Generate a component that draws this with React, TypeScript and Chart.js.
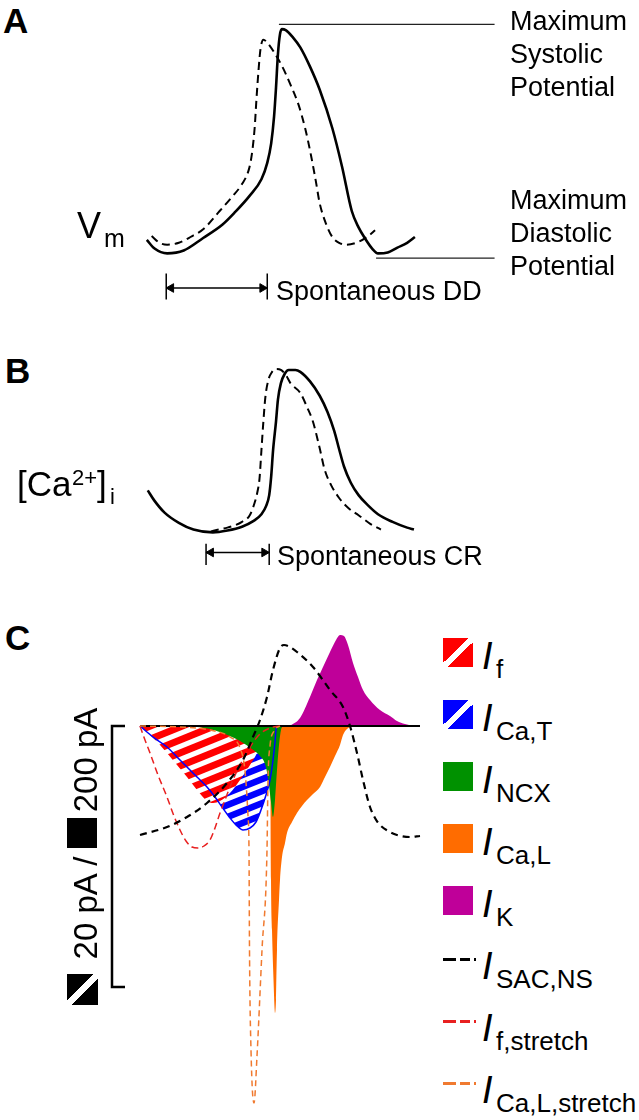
import React, { useEffect, useRef } from "react";
import { Chart, registerables } from "chart.js";
Chart.register(...registerables);

const FONT = '"Liberation Sans", Arial, Helvetica, sans-serif';

// ---------- Panel A: membrane potential (time, height above MDP) ----------
const vmControl: number[][] = [[2,17],[10,8],[23,3],[40,6],[60,19],[80,33],[93,46],[108,63],[120,80],[126,97],[130,117],[133,145],[135,175],[137,210],[139,230],[141,236],[145,235],[152,228],[160,217],[170,197],[180,173],[193,133],[203,93],[213,47],[220,30],[227,18],[234,8],[240,3],[250,4],[260,9],[270,14],[278,20]];
const vmStretch: number[][] = [[7,21],[15,14],[23,12],[35,14],[47,20],[60,28],[77,47],[90,62],[100,75],[107,90],[110,105],[113,133],[115,165],[117,193],[119,215],[122,225],[126,222],[133,212],[142,196],[150,178],[158,158],[165,133],[171,105],[176,78],[180,55],[186,35],[193,20],[200,14],[207,12],[220,15],[230,21],[237,27]];
const mspLine: number[][] = [[138,241],[360,241]];
const mdpLine: number[][] = [[238,-2],[360,-2]];
const ddBar: number[][] = [[22,-33],[126,-33]];
const ddTickL: number[][] = [[22,-18],[22,-45]];
const ddTickR: number[][] = [[126,-18],[126,-45]];
const ddHeads: number[][] = [[27,-33],[121,-33]];

// ---------- Panel B: [Ca2+]i ----------
const caControl: number[][] = [[3,48],[10,37],[20,25],[35,14],[50,7],[70,4],[85,6],[100,10],[112,16],[120,23],[125,32],[128,43],[130,62],[132,90],[135,120],[137,143],[140,160],[144,170],[148,174],[155,174],[160,172],[170,162],[180,147],[188,130],[195,110],[200,91],[205,73],[212,56],[220,43],[230,32],[240,23],[255,15],[270,9],[277,7]];
const caStretch: number[][] = [[68,5],[76,7],[85,9],[100,15],[108,22],[113,35],[116,47],[118,60],[120,90],[122,120],[124,145],[127,163],[131,172],[135,175],[140,174],[145,169],[150,160],[160,150],[167,135],[173,120],[180,92],[185,70],[192,53],[200,40],[210,29],[220,22],[232,13],[243,7]];
const crBar: number[][] = [[63,-17],[128,-17]];
const crTickL: number[][] = [[63,-8],[63,-30]];
const crTickR: number[][] = [[128,-8],[128,-30]];
const crHeads: number[][] = [[68,-17],[123,-17]];

// ---------- Panel C: currents ----------
const iF: number[][] = [[0,0],[10,-9],[20,-19],[27,-27],[37,-39],[47,-51],[57,-64],[67,-75],[73,-77],[80,-75],[90,-67],[100,-54],[110,-39],[117,-27],[120,-19],[123,-9],[126,-2],[130,0]];
const iCaT: number[][] = [[0,0],[13,-11],[27,-21],[37,-31],[47,-41],[57,-51],[67,-61],[75,-71],[82,-81],[90,-92],[97,-100],[103,-104],[110,-102],[116,-96],[121,-84],[126,-69],[130,-54],[133,-34],[135,-16],[136,-4],[137,0]];
const iNCX: number[][] = [[50,0],[70,-3],[85,-8],[100,-15],[112,-23],[120,-30],[125,-38],[128,-52],[131,-76],[133,-91],[135,-74],[137,-44],[139,-19],[141,-4],[143,0]];
const iCaL: number[][] = [[129,0],[130,-9],[130.5,-74],[131,-154],[132,-204],[133.5,-254],[135,-287],[136,-274],[137,-224],[139,-174],[140,-154],[142,-131],[145,-117],[147,-107],[152,-96],[157,-87],[162,-80],[167,-74],[173,-68],[180,-61],[185,-51],[190,-41],[195,-30],[200,-19],[203,-9],[207,-3],[212,0]];
const iK: number[][] = [[150,0],[160,8],[170,29],[177,46],[183,59],[190,74],[196,86],[200,91],[204,90],[208,81],[213,63],[218,49],[223,36],[230,26],[240,16],[250,10],[257,5],[265,2],[273,0]];
const iSAC: number[][] = [[0,-109],[27,-101],[47,-91],[67,-77],[87,-57],[103,-34],[113,-11],[120,6],[127,29],[133,56],[140,78],[144,81],[150,79],[157,74],[173,59],[190,36],[203,19],[210,0],[217,-27],[223,-54],[230,-81],[235,-92],[240,-99],[250,-106],[257,-109],[270,-111],[280,-110]];
const iFStretch: number[][] = [[0,0],[5,-14],[10,-27],[18,-49],[27,-71],[34,-90],[40,-104],[46,-115],[52,-121],[58,-122],[64,-120],[70,-114],[75,-102],[80,-87],[85,-74],[90,-61],[97,-45],[105,-30],[112,-18],[120,-8],[130,-2],[140,0]];
const iCaLStretch: number[][] = [[0,0],[40,-1],[70,-4],[90,-11],[100,-22],[105,-45],[108,-90],[109,-124],[109.5,-224],[111,-324],[114,-377],[117,-330],[122,-224],[127,-124],[128,-54],[130,-20],[134,-5],[140,0]];
const zeroLine: number[][] = [[0,0],[280,0]];
const scaleBar: number[][] = [[-15,0],[-28,0],[-28,-261],[-15,-261]];

// legend
const legendSubs = ["f", "Ca,T", "NCX", "Ca,L", "K", "SAC,NS", "f,stretch", "Ca,L,stretch"];

const RED = "#ff0000";
const BLUE = "#0000ff";
const GREEN = "#009100";
const ORANGE = "#ff6c00";
const MAGENTA = "#bf0099";
const ORANGE_D = "#f07a30";
const RED_D = "#e82020";

const xy = (pts: number[][]) => pts.map(([x, y]) => ({ x, y }));

function line(pts: number[][], color: string, width: number, extra: any = {}) {
  return {
    type: "line",
    data: xy(pts),
    borderColor: color,
    borderWidth: width,
    pointRadius: 0,
    fill: false,
    tension: 0,
    ...extra,
  };
}
const smooth = { cubicInterpolationMode: "monotone" };

function heads(pts: number[][]) {
  return {
    type: "line",
    data: xy(pts),
    showLine: false,
    pointStyle: "triangle",
    pointRadius: 5,
    pointRotation: [-90, 90],
    pointBackgroundColor: "#000",
    pointBorderColor: "#000",
    pointBorderWidth: 1,
  };
}

function makeHatch(color: string, w: number, h: number, band: number) {
  const c = document.createElement("canvas");
  c.width = w;
  c.height = h;
  const g = c.getContext("2d")!;
  g.fillStyle = color;
  g.fillRect(0, 0, w, h);
  g.fillStyle = "#fff";
  for (let k = -1; k <= 1; k++) {
    const y0 = h + k * h;
    const y1 = k * h;
    g.beginPath();
    g.moveTo(0, y0 - band / 2);
    g.lineTo(w, y1 - band / 2);
    g.lineTo(w, y1 + band / 2);
    g.lineTo(0, y0 + band / 2);
    g.closePath();
    g.fill();
  }
  return g.createPattern(c, "repeat");
}

function baseOptions(xmin: number, xmax: number, ymin: number, ymax: number) {
  return {
    animation: false,
    responsive: false,
    maintainAspectRatio: false,
    events: [],
    layout: { padding: 0 },
    plugins: { legend: { display: false }, tooltip: { enabled: false }, title: { display: false } },
    scales: {
      x: { type: "linear", min: xmin, max: xmax, display: false },
      y: { type: "linear", min: ymin, max: ymax, display: false },
    },
  };
}

function configA() {
  return {
    type: "line",
    data: {
      datasets: [
        line(vmControl, "#000", 2.6, smooth),
        line(vmStretch, "#000", 2, { ...smooth, borderDash: [8, 5] }),
        line(mspLine, "#222", 1.3),
        line(mdpLine, "#222", 1.3),
        line(ddBar, "#000", 1.5),
        line(ddTickL, "#000", 1.5),
        line(ddTickR, "#000", 1.5),
        heads(ddHeads),
      ],
    },
    options: baseOptions(-40, 380, -60, 260),
  };
}

function configB() {
  return {
    type: "line",
    data: {
      datasets: [
        line(caControl, "#000", 2.6, smooth),
        line(caStretch, "#000", 2, { ...smooth, borderDash: [8, 5] }),
        line(crBar, "#000", 1.5),
        line(crTickL, "#000", 1.5),
        line(crTickR, "#000", 1.5),
        heads(crHeads),
      ],
    },
    options: baseOptions(-40, 380, -50, 220),
  };
}

function configC() {
  const redHatch = makeHatch(RED, 32, 13, 5.5);
  const blueHatch = makeHatch(BLUE, 30, 12, 5);
  const fillDs = (pts: number[][], bg: any, order: number) => ({
    type: "line",
    data: xy(pts),
    borderColor: "rgba(0,0,0,0)",
    borderWidth: 0,
    backgroundColor: bg,
    pointRadius: 0,
    fill: "origin",
    cubicInterpolationMode: "monotone",
    order,
  });
  return {
    type: "line",
    data: {
      datasets: [
        fillDs(iCaT, blueHatch, 20),
        fillDs(iF, redHatch, 19),
        fillDs(iCaL, ORANGE, 18),
        fillDs(iNCX, GREEN, 17),
        fillDs(iK, MAGENTA, 16),
        line(zeroLine, "#000", 2, { order: 15 }),
        line(iCaT, BLUE, 1.5, { ...smooth, order: 14 }),
        line(iFStretch, RED_D, 1.5, { ...smooth, borderDash: [7, 4], order: 13 }),
        line(iCaLStretch, ORANGE_D, 1.5, { ...smooth, borderDash: [6, 4], order: 12 }),
        line(iSAC, "#000", 2.2, { ...smooth, borderDash: [7, 5], order: 11 }),
        line(scaleBar, "#000", 2.5, { order: 10 }),
      ],
    },
    options: baseOptions(-40, 290, -384, 116),
  };
}

function ChartBox({ left, top, width, height, make }: any) {
  const ref = useRef<HTMLCanvasElement>(null);
  useEffect(() => {
    const chart = new Chart(ref.current as HTMLCanvasElement, make());
    return () => chart.destroy();
  }, []);
  return (
    <canvas
      ref={ref}
      width={width}
      height={height}
      style={{ position: "absolute", left, top, width, height, display: "block" }}
    />
  );
}

function Label({ x, base, fs, bold, italic, children }: any) {
  return (
    <div
      style={{
        position: "absolute",
        left: x,
        top: base - 0.8465 * fs,
        fontSize: fs,
        lineHeight: fs + "px",
        fontFamily: FONT,
        fontWeight: bold ? 700 : 400,
        fontStyle: italic ? "italic" : "normal",
        whiteSpace: "nowrap",
        color: "#000",
      }}
    >
      {children}
    </div>
  );
}

function VLabel({ cx, cy, fs, children }: any) {
  return (
    <div
      style={{
        position: "absolute",
        left: cx,
        top: cy,
        transform: "translate(-50%, -50%) rotate(-90deg)",
        fontSize: fs,
        lineHeight: fs + "px",
        fontFamily: FONT,
        whiteSpace: "nowrap",
        color: "#000",
      }}
    >
      {children}
    </div>
  );
}

const hatchSwatch = (c: string) =>
  `linear-gradient(to bottom right, ${c} 0%, ${c} 43%, #fff 43%, #fff 57%, ${c} 57%, ${c} 100%)`;

export default function App() {
  const swatches = [hatchSwatch(RED), hatchSwatch(BLUE), GREEN, ORANGE, MAGENTA];
  const dashColors = ["#000", RED_D, ORANGE_D];
  return (
    <div
      style={{
        position: "absolute",
        left: 0,
        top: 0,
        width: 639,
        height: 1120,
        background: "#fff",
        overflow: "hidden",
        fontFamily: FONT,
      }}
    >
      <ChartBox left={100} top={0} width={420} height={320} make={configA} />
      <ChartBox left={100} top={320} width={420} height={270} make={configB} />
      <ChartBox left={100} top={610} width={330} height={500} make={configC} />

      {/* Panel A text */}
      <Label x={3} base={33} fs={35} bold>A</Label>
      <Label x={510} base={31} fs={27}>Maximum</Label>
      <Label x={510} base={64} fs={27}>Systolic</Label>
      <Label x={510} base={97} fs={27}>Potential</Label>
      <Label x={510} base={210} fs={27}>Maximum</Label>
      <Label x={510} base={243} fs={27}>Diastolic</Label>
      <Label x={510} base={276} fs={27}>Potential</Label>
      <Label x={276} base={301} fs={27}>Spontaneous DD</Label>
      <Label x={77} base={238} fs={36}>V</Label>
      <Label x={104} base={247} fs={25}>m</Label>

      {/* Panel B text */}
      <Label x={5} base={383} fs={35} bold>B</Label>
      <Label x={17} base={496} fs={35}>[Ca</Label>
      <Label x={72} base={486} fs={22}>2+</Label>
      <Label x={97} base={496} fs={35}>]</Label>
      <Label x={110} base={505} fs={22}>i</Label>
      <Label x={277} base={566} fs={27}>Spontaneous CR</Label>

      {/* Panel C text */}
      <Label x={5} base={650} fs={35} bold>C</Label>
      <VLabel cx={85} cy={760} fs={33}>200 pA</VLabel>
      <VLabel cx={85} cy={908} fs={33}>20 pA /</VLabel>
      <div style={{ position: "absolute", left: 67, top: 818, width: 30, height: 30, background: "#000" }} />
      <div style={{ position: "absolute", left: 67, top: 974, width: 31, height: 31, background: hatchSwatch("#000") }} />

      {/* Legend */}
      {swatches.map((bg, k) => (
        <div
          key={"sw" + k}
          style={{ position: "absolute", left: 443, top: 638 + 62 * k, width: 30, height: 29, background: bg }}
        />
      ))}
      {dashColors.map((c, k) => {
        const y = 669 + 62 * (k + 5) - 20;
        return (
          <React.Fragment key={"dl" + k}>
            <div style={{ position: "absolute", left: 443, top: y - 1.5, width: 13, height: 3, background: c }} />
            <div style={{ position: "absolute", left: 460, top: y - 1.5, width: 10, height: 3, background: c }} />
            <div style={{ position: "absolute", left: 474, top: y - 1.5, width: 2, height: 3, background: c }} />
          </React.Fragment>
        );
      })}
      {legendSubs.map((s, k) => (
        <React.Fragment key={"lg" + k}>
          <Label x={482} base={669 + 62 * k} fs={38} italic>I</Label>
          <Label x={496} base={678 + 62 * k} fs={26}>{s}</Label>
        </React.Fragment>
      ))}
    </div>
  );
}
